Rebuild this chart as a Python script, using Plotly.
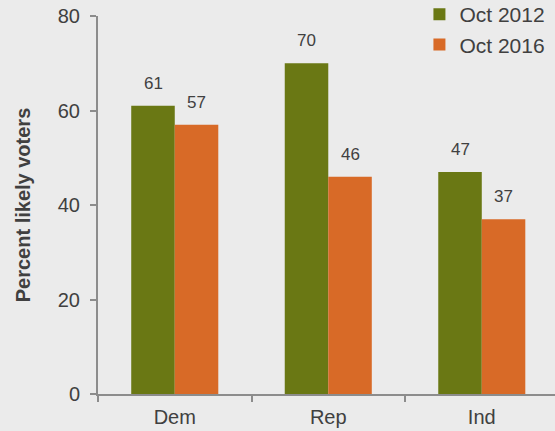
import plotly.graph_objects as go

categories = ["Dem", "Rep", "Ind"]
oct_2012 = [61, 70, 47]
oct_2016 = [57, 46, 37]
series_names = ["Oct 2012", "Oct 2016"]
y_ticks = [0, 20, 40, 60, 80]

GREEN = "#6A7814"
ORANGE = "#D86A27"
TEXT = "#404040"
AXIS = "#8C8C8C"
BG = "#EBEBEB"
FONT = "Liberation Sans, Arial, sans-serif"

fig = go.Figure()
fig.add_trace(go.Bar(x=categories, y=oct_2012, name=series_names[0],
                     marker=dict(color=GREEN, line=dict(width=0))))
fig.add_trace(go.Bar(x=categories, y=oct_2016, name=series_names[1],
                     marker=dict(color=ORANGE, line=dict(width=0))))

bar_px = 43.5
for vals, shift in [(oct_2012, -bar_px / 2), (oct_2016, bar_px / 2)]:
    for c, v in zip(categories, vals):
        fig.add_annotation(x=c, y=v, text=str(v), showarrow=False,
                           xshift=shift, yshift=11, yanchor="bottom",
                           font=dict(family=FONT, size=17, color=TEXT))

fig.update_layout(
    width=555, height=431,
    margin=dict(l=98, r=0, t=16, b=37, autoexpand=False),
    paper_bgcolor=BG, plot_bgcolor=BG,
    barmode="group", bargap=0.433, bargroupgap=0,
    font=dict(family=FONT, color=TEXT),
    showlegend=True,
    legend=dict(x=0.99, y=1.058, xanchor="right", yanchor="top",
                bgcolor="rgba(0,0,0,0)", font=dict(family=FONT, size=21, color=TEXT),
                itemwidth=30, tracegroupgap=0),
    xaxis=dict(range=[-0.5, 2.477], showline=True, linecolor=AXIS, linewidth=2,
               ticks="outside", tickson="boundaries", ticklen=6, tickcolor=AXIS,
               tickwidth=2, showgrid=False, zeroline=False, ticklabelstandoff=4,
               tickfont=dict(family=FONT, size=20, color=TEXT)),
    yaxis=dict(range=[0, 80], tickvals=y_ticks, showline=True, linecolor=AXIS,
               linewidth=2, ticks="outside", ticklen=6, tickcolor=AXIS, tickwidth=2,
               showgrid=False, zeroline=False, ticklabelstandoff=6,
               tickfont=dict(family=FONT, size=20, color=TEXT),
               title=dict(text="<b>Percent likely voters</b>", standoff=22,
                          font=dict(family=FONT, size=20, color=TEXT))),
)

fig.write_html("out.html", config={"displayModeBar": False},
               post_script="document.body.style.margin='0';document.body.style.overflow='hidden';")
